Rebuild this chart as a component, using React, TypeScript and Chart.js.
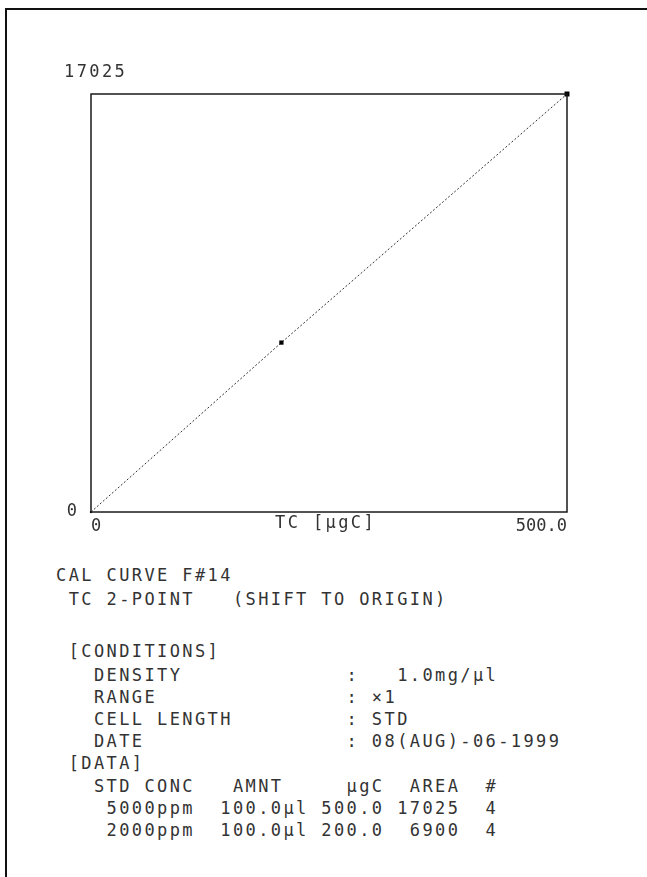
import React, { useEffect, useRef } from 'react';
import { Chart, registerables } from 'chart.js';

Chart.register(...registerables);

// ---- data ----
const amountsUgC = [0, 200, 500];
const areas = [0, 6900, 17025];
const xTickValues = [0, 500];
const xTickLabels = ['0', '500.0'];
const yTickValues = [0];
const yTickLabels = ['0'];
const yMaxLabel = '17025';
const yMax = 17025;
const xMax = 500;
const xTitle = 'TC [μgC]';

const reportLines = [
  'CAL CURVE F#14',
  ' TC 2-POINT   (SHIFT TO ORIGIN)',
  '',
  ' [CONDITIONS]',
  '   DENSITY             :   1.0mg/μl',
  '   RANGE               : ×1',
  '   CELL LENGTH         : STD',
  '   DATE                : 08(AUG)-06-1999',
  ' [DATA]',
  '   STD CONC   AMNT     μgC  AREA  #',
  '    5000ppm  100.0μl 500.0 17025  4',
  '    2000ppm  100.0μl 200.0  6900  4',
];

const FONT = '"DejaVu Sans Mono", "Liberation Mono", monospace';
const INK = '#333333';
const FONT_SIZE = 17;
const LETTER_SPACING = 2.4;

const plotBox = {
  id: 'plotBox',
  afterDraw(chart: any) {
    const { ctx, chartArea } = chart;
    const { left, top, right, bottom } = chartArea;
    ctx.save();
    ctx.strokeStyle = '#1a1a1a';
    ctx.lineWidth = 1.5;
    ctx.strokeRect(left, top, right - left, bottom - top);
    ctx.fillStyle = INK;
    ctx.font = `${FONT_SIZE}px ${FONT}`;
    (ctx as any).letterSpacing = LETTER_SPACING + 'px';
    ctx.textBaseline = 'middle';
    ctx.textAlign = 'left';
    ctx.fillText(yMaxLabel, left - 27, top - 21);
    ctx.fillText(xTitle, left + 184, bottom + 12);
    ctx.restore();
  },
};

export default function App() {
  const ref = useRef<HTMLCanvasElement | null>(null);

  useEffect(() => {
    if (!ref.current) return;
    const chart = new Chart(ref.current, {
      type: 'line',
      data: {
        datasets: [
          {
            data: amountsUgC.map((x, i) => ({ x, y: areas[i] })),
            borderColor: '#333',
            borderWidth: 1,
            borderDash: [2, 2],
            pointStyle: 'rect',
            pointRadius: [1.5, 3, 3.5],
            pointBackgroundColor: '#000',
            pointBorderColor: '#000',
            pointBorderWidth: 0,
            clip: false as any,
          },
        ],
      },
      options: {
        responsive: false,
        animation: false,
        devicePixelRatio: 1,
        layout: { padding: { top: 94, right: 80, left: 0, bottom: 0 } },
        plugins: { legend: { display: false }, tooltip: { enabled: false } },
        scales: {
          x: {
            type: 'linear',
            min: 0,
            max: xMax,
            grid: { display: false },
            border: { display: false },
            afterBuildTicks: (s: any) => {
              s.ticks = xTickValues.map((value) => ({ value }));
            },
            afterFit: (s: any) => {
              s.height = 38;
            },
            ticks: {
              align: 'inner',
              maxRotation: 0,
              padding: -4,
              color: INK,
              font: { family: FONT, size: FONT_SIZE },
              callback: (v: any) => xTickLabels[xTickValues.indexOf(Number(v))],
            },
          },
          y: {
            type: 'linear',
            min: 0,
            max: yMax,
            grid: { display: false },
            border: { display: false },
            afterBuildTicks: (s: any) => {
              s.ticks = yTickValues.map((value) => ({ value }));
            },
            afterFit: (s: any) => {
              s.width = 91;
            },
            ticks: {
              padding: 6,
              color: INK,
              font: { family: FONT, size: FONT_SIZE },
              callback: (v: any) => yTickLabels[yTickValues.indexOf(Number(v))],
            },
          },
        },
      },
      plugins: [plotBox],
    } as any);
    return () => chart.destroy();
  }, []);

  const lineY = [575, 599, 625, 651, 675, 697, 719, 741, 763, 786, 808, 830];

  return (
    <div
      style={{
        position: 'fixed',
        left: 0,
        top: 0,
        width: 647,
        height: 877,
        overflow: 'hidden',
        background: '#fff',
      }}
    >
      <div
        style={{
          position: 'absolute',
          left: 5,
          top: 8,
          width: 800,
          height: 1000,
          borderTop: '2px solid #111',
          borderLeft: '2px solid #111',
        }}
      />
      <canvas ref={ref} width={647} height={550} style={{ position: 'absolute', left: 0, top: 0 }} />
      {reportLines.map((t, i) => (
        <div
          key={i}
          style={{
            position: 'absolute',
            left: 56,
            top: lineY[i] - 10,
            fontFamily: FONT,
            fontSize: FONT_SIZE,
            letterSpacing: LETTER_SPACING,
            lineHeight: '20px',
            color: INK,
            whiteSpace: 'pre',
          }}
        >
          {t}
        </div>
      ))}
    </div>
  );
}
